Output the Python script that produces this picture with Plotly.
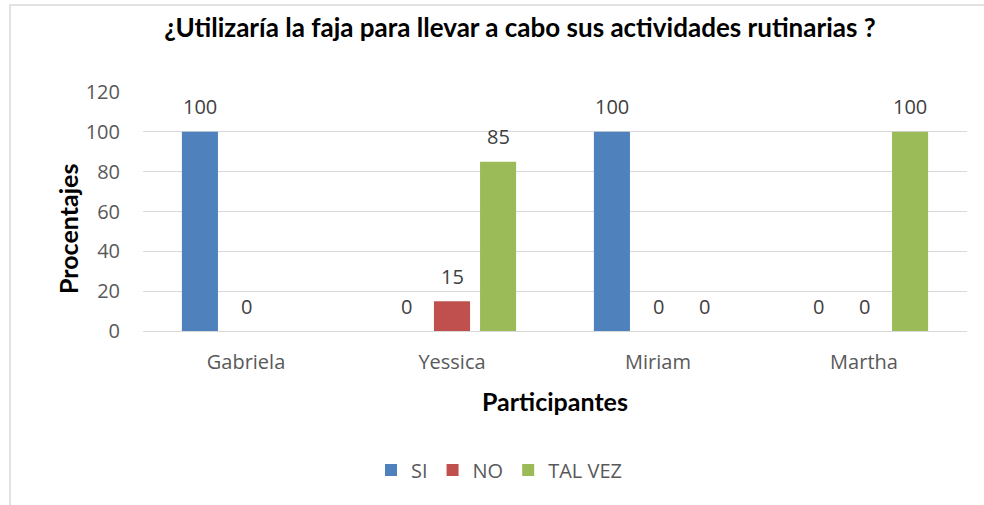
import plotly.graph_objects as go

participantes = ["Gabriela", "Yessica", "Miriam", "Martha"]
si = [100, 0, 100, 0]
no = [0, 15, 0, 0]
tal_vez = [None, 85, 0, 100]
y_ticks = [0, 20, 40, 60, 80, 100, 120]

series = [("SI", si, "#4f81bd"), ("NO", no, "#c0504d"), ("TAL VEZ", tal_vez, "#9bbb59")]

W, H = 984, 505
L, R, T, B = 143, 17, 92, 174
pw, ph = W - L - R, H - T - B

fig = go.Figure()
for name, vals, color in series:
    fig.add_trace(go.Bar(name=name, x=participantes, y=vals, marker_color=color,
                         marker_line_width=0))

annotations = []
offsets = [-46, 0, 46]
for (name, vals, color), off in zip(series, offsets):
    for cat, v in zip(participantes, vals):
        if v is None:
            continue
        annotations.append(dict(x=cat, y=v, xref="x", yref="y", text=str(v), showarrow=False,
                                xshift=off, yshift=25, yanchor="middle",
                                font=dict(family="Open Sans", size=20, color="#404040")))

# y-axis title placed like the original (slightly below the plot centre)
annotations.append(dict(text="<b>Procentajes</b>", textangle=-90, showarrow=False,
                        xref="paper", yref="paper",
                        x=(68 - L) / pw, y=(T + ph - 229) / ph,
                        xanchor="center", yanchor="middle",
                        font=dict(family="Lato", size=25, color="#000000")))

fig.update_layout(
    width=W, height=H,
    margin=dict(l=L, r=R, t=T, b=B),
    paper_bgcolor="white", plot_bgcolor="white",
    barmode="group", bargap=0.329, bargroupgap=0.217,
    title=dict(text="<b>¿Utilizaría la faja para llevar a cabo sus actividades rutinarias ?</b>",
               x=520 / W, xanchor="center", xref="container",
               y=1 - 28 / H, yanchor="middle", yref="container",
               font=dict(family="Lato", size=26, color="#000000")),
    xaxis=dict(showgrid=False, showline=False, ticks="",
               tickfont=dict(family="Open Sans", size=20, color="#595959"),
               ticklabelstandoff=17,
               title=dict(text="<b>Participantes</b>", standoff=19,
                          font=dict(family="Lato", size=25, color="#000000"))),
    yaxis=dict(range=[0, 120], tickvals=y_ticks, showgrid=True, gridcolor="#d9d9d9",
               gridwidth=1, zeroline=True, zerolinecolor="#d9d9d9", zerolinewidth=1,
               showline=False, ticks="",
               tickfont=dict(family="Open Sans", size=20, color="#595959"),
               ticklabelstandoff=22),
    legend=dict(orientation="h", x=(499 - L) / pw, xanchor="center",
                y=(T + ph - 470) / ph, yanchor="middle",
                font=dict(family="Open Sans", size=20, color="#595959"),
                traceorder="normal"),
    annotations=annotations,
    shapes=[dict(type="rect", xref="paper", yref="paper",
                 x0=(10 - L) / pw, x1=(W + 60 - L) / pw,
                 y0=(T + ph - (H + 60)) / ph, y1=(T + ph - 5) / ph,
                 line=dict(color="#d9d9d9", width=1.5), fillcolor="rgba(0,0,0,0)", layer="below")],
)

fig.write_html("out.html", config={"displayModeBar": False},
               post_script="document.body.style.margin='0';document.body.style.overflow='hidden';")
